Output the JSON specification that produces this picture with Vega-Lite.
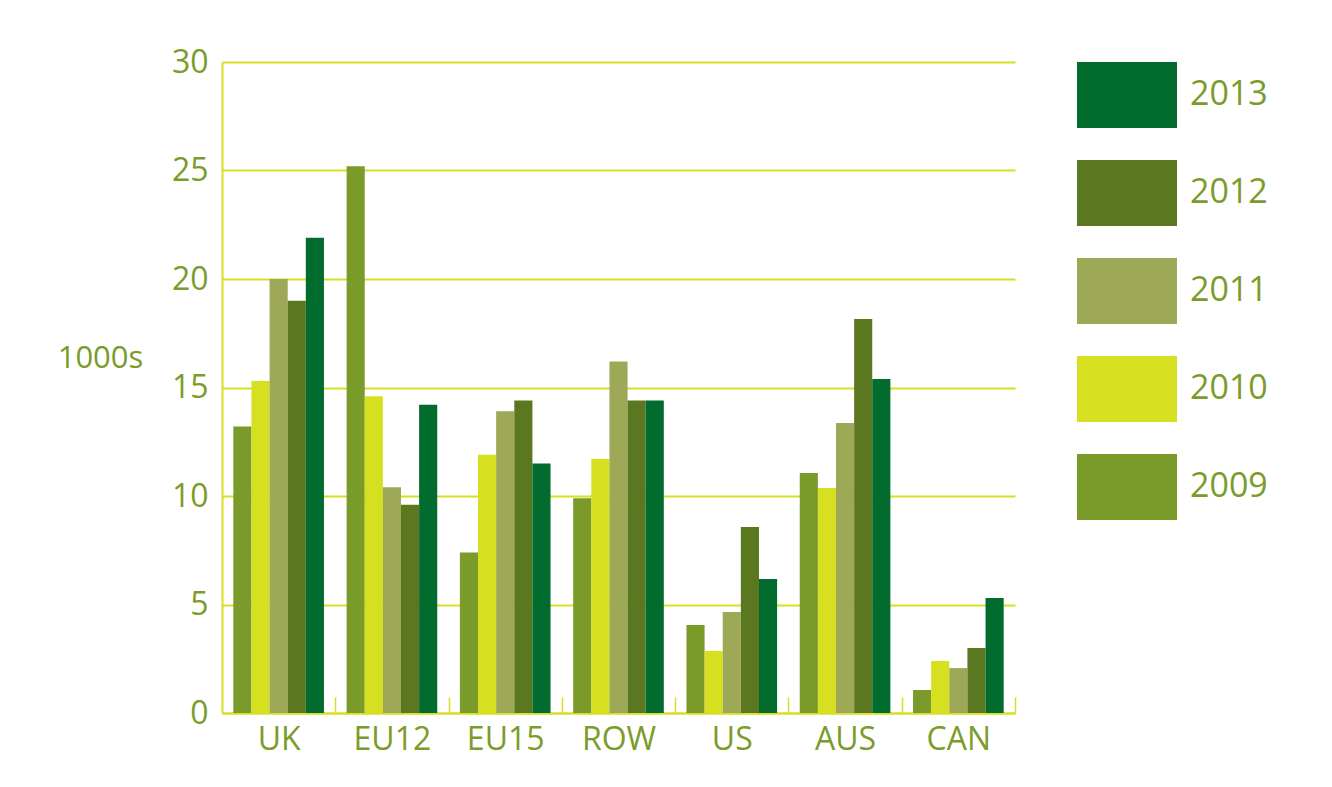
{
  "$schema": "https://vega.github.io/schema/vega-lite/v6.json",
  "autosize": {"type": "none"},
  "padding": {"left": 222, "top": 62, "right": 317, "bottom": 74},
  "width": 793,
  "height": 651,
  "background": "white",
  "config": {
    "view": {"stroke": null},
    "font": "Open Sans"
  },
  "data": {
    "values": [
      {"region": "UK", "year": "2009", "value": 13.2},
      {"region": "UK", "year": "2010", "value": 15.3},
      {"region": "UK", "year": "2011", "value": 20.0},
      {"region": "UK", "year": "2012", "value": 19.0},
      {"region": "UK", "year": "2013", "value": 21.9},
      {"region": "EU12", "year": "2009", "value": 25.2},
      {"region": "EU12", "year": "2010", "value": 14.6},
      {"region": "EU12", "year": "2011", "value": 10.4},
      {"region": "EU12", "year": "2012", "value": 9.6},
      {"region": "EU12", "year": "2013", "value": 14.2},
      {"region": "EU15", "year": "2009", "value": 7.4},
      {"region": "EU15", "year": "2010", "value": 11.9},
      {"region": "EU15", "year": "2011", "value": 13.9},
      {"region": "EU15", "year": "2012", "value": 14.4},
      {"region": "EU15", "year": "2013", "value": 11.5},
      {"region": "ROW", "year": "2009", "value": 9.9},
      {"region": "ROW", "year": "2010", "value": 11.7},
      {"region": "ROW", "year": "2011", "value": 16.2},
      {"region": "ROW", "year": "2012", "value": 14.4},
      {"region": "ROW", "year": "2013", "value": 14.4},
      {"region": "US", "year": "2009", "value": 4.06},
      {"region": "US", "year": "2010", "value": 2.86},
      {"region": "US", "year": "2011", "value": 4.65},
      {"region": "US", "year": "2012", "value": 8.57},
      {"region": "US", "year": "2013", "value": 6.18},
      {"region": "AUS", "year": "2009", "value": 11.06},
      {"region": "AUS", "year": "2010", "value": 10.37},
      {"region": "AUS", "year": "2011", "value": 13.36},
      {"region": "AUS", "year": "2012", "value": 18.16},
      {"region": "AUS", "year": "2013", "value": 15.39},
      {"region": "CAN", "year": "2009", "value": 1.06},
      {"region": "CAN", "year": "2010", "value": 2.4},
      {"region": "CAN", "year": "2011", "value": 2.07},
      {"region": "CAN", "year": "2012", "value": 3.0},
      {"region": "CAN", "year": "2013", "value": 5.3}
    ]
  },
  "mark": {"type": "bar"},
  "encoding": {
    "x": {
      "field": "region",
      "type": "nominal",
      "sort": ["UK", "EU12", "EU15", "ROW", "US", "AUS", "CAN"],
      "scale": {"paddingInner": 0.2, "paddingOuter": 0.1},
      "axis": {
        "title": null,
        "labelAngle": 0,
        "labelFontSize": 32,
        "labelColor": "#7b9c2b",
        "labelPadding": 27,
        "labelOffset": -56.65,
        "domainColor": "#d6df23",
        "domainWidth": 2,
        "tickOffset": 56.65,
        "tickSize": -16,
        "tickColor": "#d6df23",
        "tickWidth": 1.5,
        "grid": false
      }
    },
    "xOffset": {
      "field": "year",
      "type": "nominal",
      "sort": "ascending",
      "scale": {"paddingInner": 0, "paddingOuter": 0}
    },
    "y": {
      "field": "value",
      "type": "quantitative",
      "scale": {"domain": [0, 30], "nice": false},
      "axis": {
        "title": "1000s",
        "titleAngle": 0,
        "titleX": -122,
        "titleY": 296,
        "titleAlign": "center",
        "titleBaseline": "middle",
        "titleFontSize": 31,
        "titleFontWeight": "normal",
        "titleColor": "#7b9c2b",
        "values": [0, 5, 10, 15, 20, 25, 30],
        "labelFontSize": 32,
        "labelColor": "#7b9c2b",
        "labelPadding": 14,
        "ticks": false,
        "domainColor": "#d6df23",
        "domainWidth": 2,
        "grid": true,
        "gridColor": "#d6df23",
        "gridWidth": 2
      }
    },
    "color": {
      "field": "year",
      "type": "nominal",
      "scale": {
        "domain": ["2013", "2012", "2011", "2010", "2009"],
        "range": ["#026b2e", "#5b7720", "#9da957", "#d6df20", "#7a9a2a"]
      },
      "legend": {
        "title": null,
        "orient": "none",
        "legendX": 855,
        "legendY": -17,
        "padding": 0,
        "symbolType": "M-1,-0.66H1V0.66H-1Z",
        "symbolSize": 10000,
        "symbolStrokeWidth": 0,
        "symbolOpacity": 1,
        "labelFontSize": 34,
        "labelColor": "#7b9c2b",
        "labelOffset": 13,
        "rowPadding": 15
      }
    }
  }
}
